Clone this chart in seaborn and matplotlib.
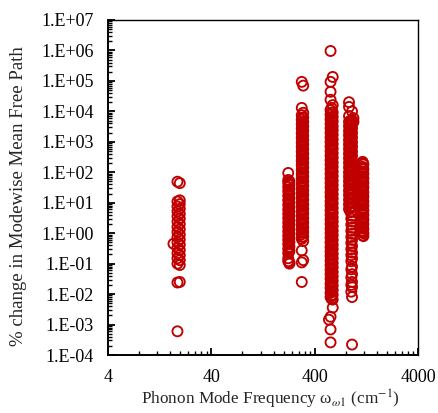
import numpy as np
import pandas as pd
import matplotlib
matplotlib.use('Agg')
import matplotlib.pyplot as plt
import seaborn as sns
from matplotlib.ticker import FixedLocator, FuncFormatter, LogLocator, NullFormatter

# Phonon bands: frequency (cm^-1) of each column of points, % change values
b1a_freq = 18.8
b1a_pct = [49, 11, 7.5, 5.2, 3.6, 2.4, 1.6, 1.1, 0.75, 0.5, 0.33, 0.22, 0.15, 0.1, 0.024, 6e-4]
b1b_freq = 19.8
b1b_pct = [44, 12, 9, 6.3, 4.3, 3.0, 2.0, 1.35, 0.9, 0.62, 0.42, 0.28, 0.19, 0.13, 0.09, 0.025]
b1c_freq = 17.2
b1c_pct = [0.45]

b2a_freq = 222
b2a_pct = [95, 56, 45, 33, 24, 17, 12, 8.5, 6, 4.3, 3.1, 2.2, 1.6, 1.15, 0.82, 0.6, 0.43,
           0.3, 0.22, 0.15, 0.12]
b2b_freq = 228
b2b_pct = [50, 38, 28, 20, 14, 10, 7.2, 5.1, 3.7, 2.6, 1.9, 1.35, 0.97, 0.7, 0.5, 0.36, 0.26,
           0.11, 0.1]
b2c_freq = 225
b2c_pct = [40, 26, 18, 13, 9, 6.6, 4.7, 3.4, 2.4, 1.75, 1.25, 0.9, 0.65, 0.46, 0.33, 0.24]

b3a_freq = 300
b3a_pct = [9.3e4, 1.3e4, 7.5e3, 5.3e3, 3.8e3, 2.7e3, 1.9e3, 1.35e3, 950, 680, 480, 340, 240,
           170, 120, 86, 61, 43, 30, 21, 15, 10.5, 7.4, 5.2, 3.7, 2.6, 1.85, 1.3, 0.92, 0.65,
           0.27, 0.11, 0.025]
b3b_freq = 310
b3b_pct = [7e4, 9e3, 6.3e3, 4.5e3, 3.2e3, 2.3e3, 1.6e3, 1.15e3, 820, 580, 410, 290, 205, 145,
           100, 72, 51, 36, 25, 18, 12.5, 8.8, 6.2, 4.4, 3.1, 2.2, 1.55, 1.1, 0.78, 0.55, 0.13]
b3c_freq = 305
b3c_pct = [6e3, 4.2e3, 3e3, 2.1e3, 1.5e3, 1.05e3, 750, 530, 380, 270, 190, 135, 95, 67, 48,
           34, 24, 17, 12, 8.3, 5.9, 4.2, 3, 2.1, 1.5, 1.05, 0.75]

b4a_freq = 570
b4a_pct = [9.6e5, 9.3e4, 4.4e4, 2.4e4, 1.1e4, 7.8e3, 5.5e3, 3.9e3, 2.8e3, 2e3, 1.4e3, 1e3,
           710, 500, 355, 250, 180, 126, 89, 63, 45, 32, 22, 16, 11, 8, 5.6, 4, 2.8, 2, 1.4,
           1, 0.71, 0.5, 0.35, 0.25, 0.18, 0.126, 0.089, 0.063, 0.045, 0.032, 0.022, 0.016,
           0.011, 0.008, 1.8e-3, 6.9e-4, 2.6e-4]
b4b_freq = 598
b4b_pct = [1.35e5, 1.6e4, 9.3e3, 6.6e3, 4.7e3, 3.3e3, 2.4e3, 1.7e3, 1.2e3, 850, 600, 420, 300,
           210, 150, 105, 75, 53, 38, 27, 19, 13.5, 9.5, 6.7, 4.7, 3.3, 2.4, 1.7, 1.2, 0.85,
           0.6, 0.42, 0.3, 0.21, 0.15, 0.105, 0.075, 0.053, 0.038, 0.027, 0.019, 0.0135,
           0.0095, 0.0066, 3.6e-3]
b4c_freq = 583
b4c_pct = [1.3e4, 9e3, 6.4e3, 4.5e3, 3.2e3, 2.25e3, 1.6e3, 1.12e3, 800, 560, 400, 280, 200,
           140, 100, 70, 50, 35, 25, 17.5, 12.5, 8.8, 6.3, 4.4, 3.1, 2.2, 1.6, 1.1, 0.8, 0.56,
           0.4, 0.28, 0.2, 0.14, 0.1, 0.07, 0.05, 0.035, 0.025, 0.0175, 0.0125, 0.0088, 0.007]
b4d_freq = 550
b4d_pct = [1.45e-3]

b5a_freq = 860
b5a_pct = [2e4, 1.4e4, 7e3, 4.6e3, 3.3e3, 2.3e3, 1.65e3, 1.15e3, 820, 580, 410, 290, 205, 145,
           100, 72, 51, 36, 25, 18, 12.5, 8.8, 6.2]
b5b_freq = 920
b5b_pct = [1e4, 5.2e3, 3.9e3, 2.8e3, 2e3, 1.4e3, 980, 700, 490, 350, 245, 175, 122, 86, 61,
           43, 30, 21, 15, 10.5, 7.4, 5.2, 3.7, 2.4, 1.5, 0.95, 0.6, 0.38, 0.23, 0.15, 0.08,
           0.045, 0.025, 0.017, 0.008, 2.2e-4]
b5c_freq = 890
b5c_pct = [4.9e3, 3.5e3, 2.5e3, 1.75e3, 1.25e3, 880, 620, 440, 310, 220, 155, 110, 78, 55, 39,
           28, 19.5, 14, 9.8, 6.9, 4.9]
b5d_freq = 905
b5d_pct = [3, 1.9, 1.2, 0.75, 0.48, 0.3, 0.19, 0.12, 0.065, 0.035, 0.02, 0.012]
b5e_freq = 950
b5e_pct = [6e3, 4.5e3]

b6a_freq = 1165
b6a_pct = [220, 150, 105, 75, 53, 38, 27, 19, 13.5, 9.5, 6.7, 4.7, 3.3, 2.4, 1.7, 1.2, 0.85]
b6b_freq = 1185
b6b_pct = [180, 125, 90, 63, 45, 32, 22, 16, 11, 8, 5.6, 4, 2.8, 2, 1.4, 1, 0.8]
b6c_freq = 1175
b6c_pct = [200, 140, 98, 69, 49, 35, 24.5, 17, 12, 8.6, 6.1, 4.3, 3.05, 2.15, 1.5, 1.08]

columns = [(b1a_freq, b1a_pct), (b1b_freq, b1b_pct), (b1c_freq, b1c_pct),
           (b2a_freq, b2a_pct), (b2b_freq, b2b_pct), (b2c_freq, b2c_pct),
           (b3a_freq, b3a_pct), (b3b_freq, b3b_pct), (b3c_freq, b3c_pct),
           (b4a_freq, b4a_pct), (b4b_freq, b4b_pct), (b4c_freq, b4c_pct), (b4d_freq, b4d_pct),
           (b5a_freq, b5a_pct), (b5b_freq, b5b_pct), (b5c_freq, b5c_pct), (b5d_freq, b5d_pct),
           (b5e_freq, b5e_pct),
           (b6a_freq, b6a_pct), (b6b_freq, b6b_pct), (b6c_freq, b6c_pct)]
df = pd.concat([pd.DataFrame({'freq': f, 'pct': v}) for f, v in columns], ignore_index=True)

sns.set_style('white')
plt.rcParams['font.family'] = ['Liberation Serif', 'DejaVu Serif']
plt.rcParams['mathtext.fontset'] = 'stix'

fig = plt.figure(figsize=(4.38, 4.13), dpi=100)
ax = fig.add_axes([0.2466, 0.1404, 0.7077, 0.8112])

sns.scatterplot(data=df, x='freq', y='pct', marker='o', s=52, linewidth=1.35,
                ax=ax, legend=False)
pts = ax.collections[-1]
pts.set_facecolor('none')
pts.set_edgecolor('#C00000')

ax.set_xscale('log')
ax.set_yscale('log')
ax.set_xlim(4, 4000)
ax.set_ylim(1e-4, 1e7)

# x axis: decades starting at 4
ax.xaxis.set_major_locator(FixedLocator([4, 40, 400, 4000]))
ax.xaxis.set_major_formatter(FuncFormatter(lambda v, p: f'{v:g}'))
ax.xaxis.set_minor_locator(FixedLocator([4 * k * 10 ** n for n in range(3) for k in range(2, 10)]))
ax.xaxis.set_minor_formatter(NullFormatter())

ax.yaxis.set_major_locator(LogLocator(base=10, numticks=20))
ax.yaxis.set_minor_locator(LogLocator(base=10, subs=np.arange(2, 10), numticks=20))
ax.yaxis.set_major_formatter(FuncFormatter(lambda v, p: f'1.E{int(round(np.log10(v))):+03d}'))
ax.yaxis.set_minor_formatter(NullFormatter())

ax.tick_params(which='both', direction='in', left=True, bottom=True, top=False, right=False,
               labelsize=13, color='black', labelcolor='black')
ax.tick_params(which='major', length=5, width=1.3, pad=10)
ax.tick_params(which='minor', length=3, width=1.0)

for side in ['left', 'bottom']:
    ax.spines[side].set_linewidth(1.4)
    ax.spines[side].set_color('black')
for side in ['top', 'right']:
    ax.spines[side].set_linewidth(1.0)
    ax.spines[side].set_color('black')

ax.set_xlabel(r'Phonon Mode Frequency ω$_{\omega 1}$ (cm$^{-1}$)', fontsize=12.4)
ax.set_ylabel('% change in Modewise Mean Free Path', fontsize=13.5)
ax.xaxis.set_label_coords(0.523, -0.097)
ax.yaxis.set_label_coords(-0.262, 0.475)

plt.savefig('out.png', dpi=100)
